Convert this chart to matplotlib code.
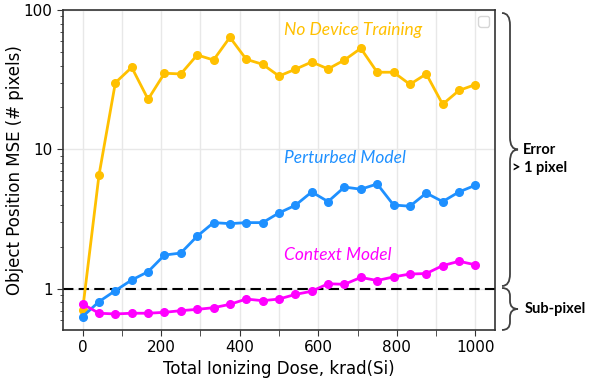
import matplotlib
matplotlib.use("Agg")
import matplotlib.pyplot as plt
from matplotlib.path import Path
from matplotlib.patches import PathPatch
from matplotlib.ticker import MultipleLocator, FixedLocator, NullFormatter, LogLocator
import numpy as np

# dose steps (krad(Si)), 25 points from 0 to 1000
dose = np.linspace(0, 1000, 25)

no_device = [0.71, 6.56, 30.1, 38.8, 22.9, 35.2, 34.8, 47.6, 43.8, 63.7,
             44.3, 40.8, 33.6, 37.6, 42.4, 37.8, 43.8, 53.1, 35.8, 35.8,
             29.3, 34.8, 21.1, 26.5, 29.2]
perturbed = [0.634, 0.811, 0.973, 1.16, 1.33, 1.75, 1.81, 2.39, 2.99, 2.94,
             2.99, 2.99, 3.51, 3.98, 4.96, 4.23, 5.38, 5.19, 5.66, 4.00,
             3.92, 4.87, 4.23, 4.96, 5.54]
context = [0.78, 0.67, 0.662, 0.67, 0.67, 0.68, 0.699, 0.714, 0.734, 0.776,
           0.847, 0.824, 0.847, 0.914, 0.963, 1.09, 1.08, 1.21, 1.15, 1.22,
           1.28, 1.29, 1.47, 1.58, 1.49]

c_yellow = "#FFC000"
c_blue = "#1E90FF"
c_mag = "#FF00FF"

W, H = 590, 381
fig = plt.figure(figsize=(W / 100, H / 100), dpi=100)
ax = fig.add_axes([63 / W, 1 - 330 / H, (495 - 63) / W, (330 - 10) / H])

ax.set_yscale("log")
ax.set_xlim(-50, 1050)
ax.set_ylim(0.508, 100)

ax.axhline(1, color="black", lw=1.5, dashes=(5, 2.5), zorder=2)

kw = dict(marker="o", ms=5.5, lw=2, zorder=3)
ax.plot(dose, no_device, color=c_yellow, **kw)
ax.plot(dose, perturbed, color=c_blue, **kw)
ax.plot(dose, context, color=c_mag, **kw)

lab_font = dict(family="Lato", style="italic", fontsize=12.5)
ax.text(512, 72, "No Device Training", color=c_yellow, va="center", **lab_font)
ax.text(512, 8.7, "Perturbed Model", color=c_blue, va="center", **lab_font)
ax.text(512, 1.75, "Context Model", color=c_mag, va="center", **lab_font)

ax.xaxis.set_major_locator(FixedLocator([0, 200, 400, 600, 800, 1000]))
ax.xaxis.set_minor_locator(MultipleLocator(100))
ax.xaxis.set_minor_formatter(NullFormatter())
ax.yaxis.set_major_locator(FixedLocator([1, 10, 100]))
ax.set_yticklabels(["1", "10", "100"])
ax.yaxis.set_minor_locator(LogLocator(base=10, subs=np.arange(2, 10)))
ax.yaxis.set_minor_formatter(NullFormatter())

ax.tick_params(axis="both", which="major", direction="out", length=4,
               labelsize=11, color="#333333")
ax.tick_params(axis="x", which="minor", direction="out", length=4, color="#333333")
ax.tick_params(axis="y", which="minor", direction="out", length=2, color="#333333")

ax.grid(True, which="major", color="#e8e8e8", lw=1, zorder=0)
ax.grid(True, which="minor", axis="x", color="#e8e8e8", lw=1, zorder=0)
ax.set_axisbelow(True)

for s in ax.spines.values():
    s.set_color("#333333")
    s.set_linewidth(1.2)

ax.set_xlabel("Total Ionizing Dose, krad(Si)", fontsize=12, labelpad=3)
ax.set_ylabel("Object Position MSE (# pixels)", fontsize=12, labelpad=0)

ax.legend(handles=[], loc="upper right", borderaxespad=0.4)


def brace(x0, yt, yb, w, r):
    # curly brace opening left, tip to the right; pixel coords, y down
    ym = (yt + yb) / 2
    xm = x0 + w / 2
    pts = [(x0, yt), (xm, yt), (xm, yt + r),
           (xm, ym - r),
           (xm, ym), (x0 + w, ym),
           (xm, ym), (xm, ym + r),
           (xm, yb - r),
           (xm, yb), (x0, yb)]
    codes = [Path.MOVETO, Path.CURVE3, Path.CURVE3,
             Path.LINETO,
             Path.CURVE3, Path.CURVE3,
             Path.CURVE3, Path.CURVE3,
             Path.LINETO,
             Path.CURVE3, Path.CURVE3]
    pts = [(px / W, 1 - py / H) for px, py in pts]
    fig.patches.append(PathPatch(Path(pts, codes), fill=False, ec="#404040",
                                 lw=1.3, transform=fig.transFigure))


brace(502, 13, 286, 16, 12)
brace(502, 288, 330, 16, 8)

ann = dict(family="Lato", weight="bold", fontsize=10.5, color="black")
fig.text(540 / W, 1 - 150 / H, "Error", ha="center", va="center", **ann)
fig.text(540 / W, 1 - 168 / H, "> 1 pixel", ha="center", va="center", **ann)
fig.text(525 / W, 1 - 309 / H, "Sub-pixel", ha="left", va="center", **ann)

fig.savefig("out.png", dpi=100)
